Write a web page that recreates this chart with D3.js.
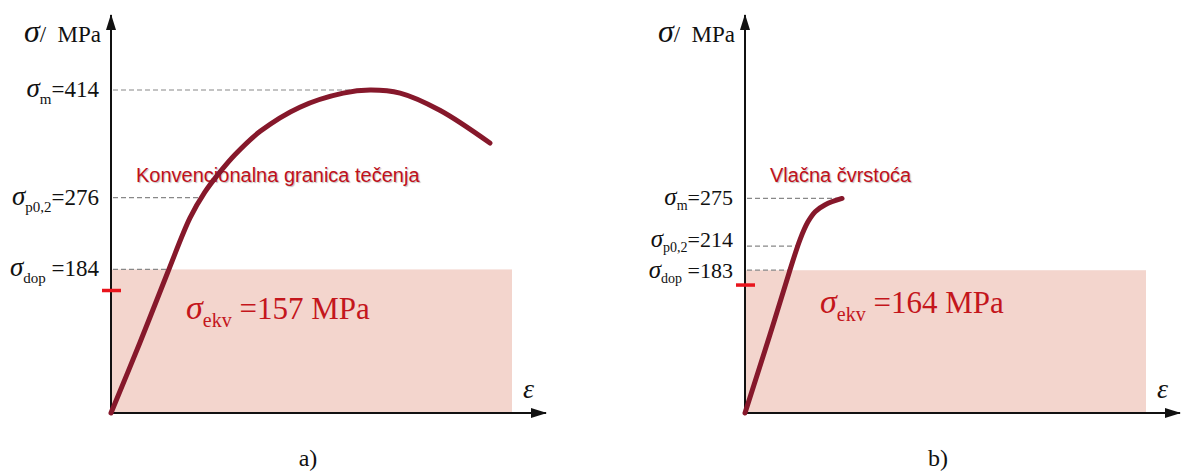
<!DOCTYPE html>
<html>
<head>
<meta charset="utf-8">
<script src="https://cdn.jsdelivr.net/npm/d3@7"></script>
<style>
  body { margin: 0; background: #fff; }
  svg text { white-space: pre; }
</style>
</head>
<body>
<svg id="chart" width="1190" height="474"></svg>
<script>
// panel names and captions
const panelNames = ["a)", "b)"];
const annotations = ["Konvencionalna granica tečenja", "Vlačna čvrstoća"];

// stress-strain curves (strain in arbitrary units, stress in MPa)
const curveStrainA = [0, 7.2, 14.2, 19.7, 23.4, 27.2, 30.9, 37.2, 47.1, 57.9, 64.6, 72.1, 82.0, 94.5];
const curveStressA = [0, 90, 181, 250, 283, 309, 331, 361, 392, 410, 414, 410, 388, 346];
const curveStrainB = [0, 6.2, 11.2, 13.7, 15.7, 17.5, 20.0, 24.2];
const curveStressB = [0, 100, 183, 222, 245, 258, 267, 275];

// characteristic stresses shown on the y axis
const levelSubs = ["m", "p0,2", "dop"];
const levelValuesA = [414, 276, 184];
const levelValuesB = [275, 214, 183];

// equivalent stress per panel
const ekvValues = [157, 164];

const curveColor = "#86182b";
const textRed = "#c4161c";

const svg = d3.select("#chart");

svg.append("defs").append("marker")
  .attr("id", "arrow")
  .attr("viewBox", "0 0 16 10")
  .attr("refX", 15)
  .attr("refY", 5)
  .attr("markerWidth", 16)
  .attr("markerHeight", 10)
  .attr("markerUnits", "userSpaceOnUse")
  .attr("orient", "auto")
  .append("path")
  .attr("d", "M0,0 L16,5 L0,10 Z")
  .attr("fill", "#111");

const y = d3.scaleLinear().domain([0, 414]).range([413, 90]);

const panels = [
  { ox: 111, strain: curveStrainA, stress: curveStressA, levels: levelValuesA,
    fs: [27, 15, 23, 7], shift: [7, 7, 7] },
  { ox: 745, strain: curveStrainB, stress: curveStressB, levels: levelValuesB,
    fs: [25, 14, 22, 5], shift: [7, 1, 8] },
];

// strain where the curve first reaches a given stress
function strainAt(strain, stress, v) {
  for (let i = 1; i < stress.length; i++) {
    if (stress[i] >= v) {
      let t = (v - stress[i - 1]) / (stress[i] - stress[i - 1]);
      return strain[i - 1] + t * (strain[i] - strain[i - 1]);
    }
  }
  return strain[strain.length - 1];
}

panels.forEach((p, i) => {
  const x = d3.scaleLinear().domain([0, 100]).range([p.ox, p.ox + 401]);
  const g = svg.append("g");
  const dop = p.levels[2];

  // allowed stress area
  g.append("rect")
    .attr("x", x(0))
    .attr("y", y(dop))
    .attr("width", x(100) - x(0))
    .attr("height", y(0) - y(dop))
    .attr("fill", "#f3d5cd");

  // dashed guide lines
  g.selectAll("line.guide")
    .data(p.levels)
    .join("line")
    .attr("class", "guide")
    .attr("x1", x(0) + 2)
    .attr("x2", (v) => x(strainAt(p.strain, p.stress, v)))
    .attr("y1", (v) => y(v))
    .attr("y2", (v) => y(v))
    .attr("stroke", "#888")
    .attr("stroke-width", 1.2)
    .attr("stroke-dasharray", "5,3");

  // axes
  g.append("line")
    .attr("x1", x(0)).attr("y1", y(0))
    .attr("x2", x(0)).attr("y2", 15)
    .attr("stroke", "#111").attr("stroke-width", 2)
    .attr("marker-end", "url(#arrow)");
  g.append("line")
    .attr("x1", x(0)).attr("y1", y(0))
    .attr("x2", x(0) + 435).attr("y2", y(0))
    .attr("stroke", "#111").attr("stroke-width", 2)
    .attr("marker-end", "url(#arrow)");

  // y axis title
  const yt = g.append("text")
    .attr("x", x(0) - 10)
    .attr("y", 42)
    .attr("text-anchor", "end")
    .attr("font-family", "Liberation Serif, serif")
    .attr("fill", "#111");
  yt.append("tspan").attr("font-size", 32).attr("font-style", "italic").text("σ");
  yt.append("tspan").attr("font-size", 23).text("/  MPa");

  // x axis symbol
  g.append("text")
    .attr("x", x(0) + 412)
    .attr("y", 398)
    .attr("font-family", "Liberation Serif, serif")
    .attr("font-style", "italic")
    .attr("font-size", 28)
    .attr("fill", "#111")
    .text("ε");

  // level labels
  p.levels.forEach((v, k) => {
    const t = g.append("text")
      .attr("x", x(0) - 12)
      .attr("y", y(v) + p.shift[k])
      .attr("text-anchor", "end")
      .attr("font-family", "Liberation Serif, serif")
      .attr("fill", "#111");
    t.append("tspan").attr("font-size", p.fs[0]).attr("font-style", "italic").text("σ");
    t.append("tspan").attr("font-size", p.fs[1]).attr("dy", p.fs[3]).text(levelSubs[k]);
    t.append("tspan").attr("font-size", p.fs[2]).attr("dy", -p.fs[3])
      .text((levelSubs[k] === "dop" ? " =" : "=") + v);
  });

  // annotation text
  g.append("text")
    .attr("x", x(0) + 25)
    .attr("y", 182)
    .attr("font-family", "Liberation Sans, Arial, sans-serif")
    .attr("font-size", 20)
    .attr("fill", "#c0101a")
    .style("text-shadow", "1px 1px 1px rgba(0,0,0,0.25)")
    .text(annotations[i]);

  // stress-strain curve
  const line = d3.line()
    .x((d) => x(d[0]))
    .y((d) => y(d[1]))
    .curve(d3.curveCatmullRom.alpha(0.5));
  g.append("path")
    .datum(d3.zip(p.strain, p.stress))
    .attr("d", line)
    .attr("fill", "none")
    .attr("stroke", curveColor)
    .attr("stroke-width", 5)
    .attr("stroke-linecap", "round")
    .attr("stroke-linejoin", "round");

  // equivalent stress tick and label
  const ekv = ekvValues[i];
  g.append("line")
    .attr("x1", x(0) - 9).attr("x2", x(0) + 10)
    .attr("y1", y(ekv)).attr("y2", y(ekv))
    .attr("stroke", "#e8141c")
    .attr("stroke-width", 3.5);

  const et = g.append("text")
    .attr("x", x(0) + 75)
    .attr("y", y(ekv) + 28)
    .attr("font-family", "Liberation Serif, serif")
    .attr("fill", textRed);
  et.append("tspan").attr("font-size", 34).attr("font-style", "italic").text("σ");
  et.append("tspan").attr("font-size", 20).attr("dy", 8).text("ekv");
  et.append("tspan").attr("font-size", 31).attr("dy", -8).text(" =" + ekv + " MPa");

  // panel caption
  g.append("text")
    .attr("x", i === 0 ? 308 : 938)
    .attr("y", 466)
    .attr("text-anchor", "middle")
    .attr("font-family", "Liberation Serif, serif")
    .attr("font-size", 24)
    .attr("fill", "#111")
    .text(panelNames[i]);
});
</script>
</body>
</html>
